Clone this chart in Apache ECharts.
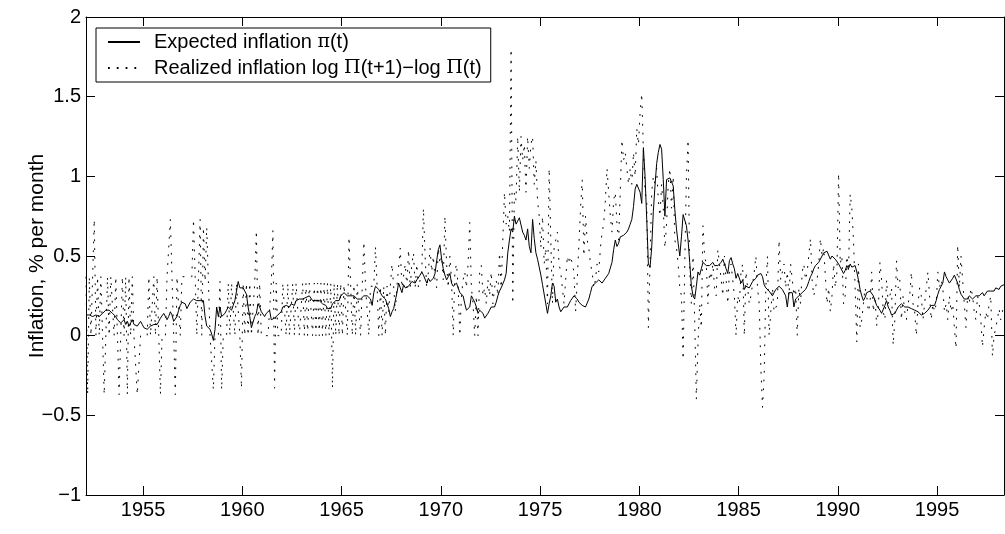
<!DOCTYPE html>
<html>
<head>
<meta charset="utf-8">
<script src="https://cdn.jsdelivr.net/npm/echarts@6/dist/echarts.min.js"></script>
<style>
html,body{margin:0;padding:0;background:#fff;}
#chart{width:1005px;height:534px;}
</style>
</head>
<body>
<div id="chart"></div>
<script>
// Monthly data, first observation Feb 1952, last observation May 1998
const firstYear = 1952;
const firstMonthIndex = 1; // 0 = January, so 1 = February

// Expected inflation pi(t), % per month
const expected1950s = [
  0.13,0.14,0.13,0.12,0.12,0.12,0.13,0.12,0.12,0.13,0.14,
  0.15,0.16,0.17,0.16,0.15,0.14,0.13,0.12,0.10,0.09,0.08,0.09,
  0.10,0.07,0.09,0.06,0.08,0.10,0.07,0.08,0.06,0.07,0.09,0.07,
  0.05,0.04,0.04,0.05,0.06,0.05,0.07,0.08,0.07,0.09,0.11,0.12,
  0.14,0.12,0.10,0.12,0.15,0.13,0.09,0.08,0.12,0.16,0.19,0.21,
  0.22,0.20,0.17,0.18,0.21,0.20,0.23,0.24,0.22,0.21,0.22,0.21,
  0.22,0.12,0.06,0.05,0.04,0.01,-0.03,0.04,0.18,0.12,0.18,0.12,
  0.13,0.14,0.16,0.18,0.17,0.16,0.19,0.22,0.28,0.34,0.30,0.31
];
const expected1960s = [
  0.30,0.28,0.26,0.18,0.12,0.05,0.04,0.12,0.14,0.20,0.18,0.15,
  0.16,0.12,0.14,0.15,0.16,0.10,0.09,0.11,0.12,0.13,0.14,0.15,
  0.18,0.17,0.19,0.20,0.18,0.20,0.21,0.19,0.22,0.21,0.23,0.22,
  0.23,0.22,0.24,0.23,0.25,0.24,0.22,0.23,0.22,0.21,0.22,0.22,
  0.20,0.21,0.19,0.17,0.18,0.17,0.20,0.21,0.22,0.23,0.22,0.25,
  0.26,0.27,0.26,0.25,0.26,0.25,0.24,0.25,0.24,0.23,0.24,0.23,
  0.24,0.25,0.26,0.25,0.24,0.23,0.19,0.27,0.31,0.30,0.29,0.27,
  0.25,0.24,0.23,0.20,0.17,0.12,0.15,0.17,0.22,0.27,0.33,0.30,
  0.27,0.32,0.30,0.29,0.31,0.32,0.34,0.33,0.33,0.35,0.36,0.38,
  0.40,0.38,0.37,0.33,0.36,0.34,0.33,0.36,0.39,0.47,0.54,0.57
];
const expected1970s = [
  0.48,0.42,0.38,0.35,0.37,0.39,0.33,0.31,0.32,0.33,0.30,0.27,
  0.26,0.25,0.20,0.16,0.17,0.18,0.25,0.23,0.21,0.18,0.14,0.16,
  0.16,0.14,0.11,0.12,0.14,0.16,0.18,0.17,0.18,0.21,0.25,0.28,
  0.30,0.31,0.35,0.39,0.52,0.60,0.67,0.65,0.75,0.70,0.69,0.74,
  0.74,0.65,0.63,0.60,0.67,0.56,0.52,0.73,0.61,0.52,0.48,0.43,
  0.38,0.32,0.31,0.20,0.14,0.20,0.25,0.33,0.31,0.21,0.23,0.18,
  0.15,0.16,0.18,0.17,0.18,0.20,0.22,0.23,0.25,0.24,0.23,0.21,
  0.20,0.19,0.18,0.18,0.19,0.23,0.27,0.31,0.32,0.33,0.34,0.35,
  0.35,0.33,0.34,0.36,0.37,0.39,0.40,0.46,0.54,0.60,0.56,0.58,
  0.62,0.62,0.63,0.64,0.65,0.67,0.70,0.73,0.81,0.92,0.95,0.96
];
const expected1980s = [
  0.90,0.83,1.18,1.00,0.73,0.45,0.43,0.55,0.78,0.94,1.08,1.15,
  1.20,1.17,0.98,0.75,0.98,0.99,0.99,0.98,0.94,0.79,0.67,0.58,
  0.50,0.62,0.76,0.77,0.69,0.60,0.46,0.31,0.25,0.23,0.31,0.40,
  0.38,0.42,0.46,0.45,0.44,0.43,0.44,0.45,0.46,0.44,0.43,0.44,
  0.44,0.46,0.48,0.49,0.42,0.39,0.47,0.49,0.45,0.42,0.36,0.39,
  0.39,0.33,0.35,0.29,0.31,0.30,0.30,0.32,0.34,0.35,0.36,0.38,
  0.38,0.39,0.37,0.32,0.30,0.29,0.28,0.28,0.25,0.27,0.29,0.30,
  0.31,0.30,0.29,0.30,0.25,0.18,0.27,0.28,0.27,0.18,0.23,0.24,
  0.25,0.26,0.27,0.28,0.29,0.31,0.34,0.37,0.39,0.42,0.44,0.45,
  0.46,0.48,0.50,0.52,0.52,0.53,0.53,0.48,0.50,0.49,0.48,0.47
];
const expected1990s = [
  0.45,0.43,0.42,0.39,0.41,0.44,0.42,0.45,0.43,0.42,0.44,0.40,
  0.35,0.29,0.25,0.22,0.24,0.27,0.28,0.28,0.27,0.25,0.22,0.19,
  0.18,0.16,0.14,0.15,0.19,0.22,0.18,0.16,0.13,0.14,0.14,0.16,
  0.18,0.19,0.20,0.19,0.18,0.17,0.18,0.18,0.17,0.17,0.16,0.15,
  0.15,0.14,0.13,0.12,0.14,0.15,0.16,0.17,0.19,0.20,0.19,0.22,
  0.26,0.29,0.31,0.33,0.40,0.37,0.35,0.33,0.34,0.36,0.38,0.37,
  0.33,0.29,0.26,0.25,0.23,0.24,0.23,0.25,0.24,0.23,0.24,0.25,
  0.24,0.25,0.26,0.27,0.25,0.26,0.28,0.27,0.28,0.29,0.28,0.30,
  0.31,0.29,0.31,0.30,0.32
];

// Realized inflation log Pi(t+1) - log Pi(t), % per month
const realized1950s = [
  0.37,-0.37,0.37,0.00,0.37,0.73,0.00,0.37,0.00,0.37,0.00,
  -0.37,0.00,0.37,0.00,0.37,0.37,0.00,0.37,0.37,-0.37,0.00,0.37,
  0.00,0.37,-0.37,0.37,0.00,0.37,0.00,0.00,-0.37,-0.37,0.00,0.00,
  0.00,0.00,0.00,0.37,0.00,0.00,0.37,0.00,0.37,0.00,-0.37,0.00,
  0.00,0.00,0.37,0.37,0.73,0.37,0.37,-0.37,0.37,0.37,0.00,0.37,
  0.37,0.37,0.37,0.37,0.37,0.37,0.73,0.37,0.00,0.37,0.73,0.00,
  0.68,0.34,0.68,0.34,0.00,0.00,-0.34,0.00,0.00,0.00,0.34,-0.34,
  0.00,0.00,0.00,0.33,0.00,0.33,0.33,0.00,0.33,0.33,0.00,-0.33
];
const realized1960s = [
  0.33,0.00,0.33,0.00,0.33,0.00,0.00,0.33,0.66,0.00,0.33,0.00,
  0.00,0.00,0.00,0.00,0.00,0.33,0.66,-0.33,0.33,0.00,0.00,0.00,
  0.33,0.33,0.00,0.33,0.00,0.00,0.33,0.00,0.33,0.33,0.00,0.00,
  0.33,0.00,0.33,0.00,0.33,0.33,0.00,0.33,0.00,0.33,0.00,0.33,
  0.00,0.33,0.00,0.33,0.00,0.33,-0.33,0.33,0.00,0.33,0.00,0.33,
  0.00,0.32,0.32,0.00,0.62,0.32,0.00,0.32,0.00,0.32,0.32,0.00,
  0.31,0.59,0.31,0.31,0.00,0.31,0.31,0.31,0.56,0.31,0.00,0.31,
  0.00,0.31,0.00,0.31,0.15,0.31,0.45,0.31,0.15,0.31,0.30,0.55,
  0.30,0.30,0.45,0.30,0.54,0.30,0.45,0.52,0.30,0.45,0.30,0.30,
  0.40,0.80,0.50,0.30,0.40,0.55,0.40,0.50,0.35,0.30,0.55,0.45
];
const realized1970s = [
  0.50,0.35,0.75,0.45,0.30,0.50,0.35,0.00,0.40,0.45,0.30,0.00,
  0.25,0.35,0.40,0.30,0.45,0.71,0.30,0.20,0.00,0.25,0.00,0.40,
  0.44,0.25,0.30,0.20,0.35,0.25,0.40,0.20,0.30,0.35,0.25,0.52,
  0.30,0.60,0.90,0.70,0.75,0.65,1.80,0.20,0.90,0.85,1.25,0.90,
  1.25,1.10,1.20,0.90,1.25,1.05,1.20,1.25,0.95,1.10,0.85,0.75,
  0.55,0.75,0.45,0.55,0.20,1.05,0.60,0.20,0.55,0.60,0.65,0.45,
  0.40,0.30,0.20,0.35,0.50,0.45,0.50,0.45,0.40,0.15,0.35,0.35,
  0.80,0.98,0.50,0.75,0.60,0.55,0.45,0.40,0.30,0.35,0.45,0.40,
  0.55,0.65,0.70,0.85,1.05,0.90,0.75,0.65,0.85,0.90,0.70,0.60,
  0.90,1.23,1.10,1.15,1.05,0.95,1.05,0.95,1.15,1.00,1.30,1.20
];
const realized1980s = [
  1.40,1.52,1.15,0.90,0.85,0.05,0.45,0.90,1.00,0.95,1.05,0.85,
  0.75,0.95,0.80,0.55,0.70,0.95,1.05,0.80,1.00,0.60,0.55,0.45,
  0.30,0.25,-0.15,0.45,1.00,1.23,0.40,0.20,0.50,0.10,-0.40,-0.05,
  0.20,0.05,0.69,0.50,0.45,0.20,0.40,0.35,0.45,0.30,0.25,0.54,
  0.45,0.45,0.25,0.50,0.35,0.20,0.40,0.45,0.35,0.25,0.00,0.25,
  0.20,0.40,0.45,0.00,0.40,0.30,0.20,0.25,0.25,0.40,0.50,0.30,
  0.20,-0.20,-0.45,-0.25,0.30,0.50,0.00,0.15,0.30,0.15,0.15,0.20,
  0.60,0.35,0.40,0.45,0.30,0.40,0.25,0.45,0.35,0.25,0.30,0.00,
  0.30,0.20,0.40,0.45,0.35,0.40,0.40,0.61,0.35,0.25,0.25,0.35,
  0.45,0.61,0.50,0.55,0.55,0.20,0.30,0.15,0.25,0.45,0.30,0.40
];
const realized1990s = [
  1.02,0.45,0.50,0.20,0.25,0.50,0.40,0.89,0.80,0.60,0.30,-0.04,
  0.45,0.05,0.10,0.20,0.30,0.25,0.15,0.20,0.40,0.15,0.25,0.06,
  0.15,0.46,0.35,0.15,0.10,0.35,0.20,0.25,0.30,-0.06,0.10,0.47,
  0.30,0.35,0.10,0.25,0.15,0.10,0.20,0.25,0.40,0.20,0.15,0.00,
  0.20,0.30,0.25,0.10,0.20,0.30,0.40,0.25,0.10,0.20,0.15,0.20,
  0.40,0.30,0.35,0.30,0.15,0.20,0.10,0.25,0.15,0.20,0.05,-0.08,
  0.57,0.30,0.50,0.35,0.20,0.05,0.25,0.20,0.30,0.25,0.15,0.10,
  0.25,0.20,0.10,-0.07,0.05,0.15,0.10,0.20,0.25,-0.13,0.00,0.05,
  0.10,0.17,0.10,0.15,0.20
];

const yearTicks = [1955, 1960, 1965, 1970, 1975, 1980, 1985, 1990, 1995];
const yTicks = [-1, -0.5, 0, 0.5, 1, 1.5, 2];
const seriesNames = ['Expected inflation', 'Realized inflation'];

const expected = [].concat(expected1950s, expected1960s, expected1970s, expected1980s, expected1990s);
const realized = [].concat(realized1950s, realized1960s, realized1970s, realized1980s, realized1990s);

// place each monthly value at the middle of its month
function monthPosition(i) {
  return firstYear + (firstMonthIndex + i + 0.5) / 12;
}
const expectedData = expected.map((v, i) => [monthPosition(i), v]);
const realizedData = realized.map((v, i) => [monthPosition(i), v]);

const xMin = monthPosition(0);
const xMax = monthPosition(realized.length - 1);

const font = 'Liberation Sans, Arial, Helvetica, sans-serif';
const black = '#000';
const tickLen = 9;

const chart = echarts.init(document.getElementById('chart'), null, {renderer: 'canvas'});
chart.setOption({
  animation: false,
  backgroundColor: '#fff',
  grid: {left: 86, right: 1, top: 17, bottom: 39, containLabel: false},
  legend: {
    data: seriesNames,
    orient: 'vertical',
    left: 96, top: 28,
    padding: [4, 9, 4, 11],
    itemGap: 6,
    itemWidth: 32, itemHeight: 20,
    borderColor: black, borderWidth: 1,
    backgroundColor: '#fff',
    selectedMode: false,
    itemStyle: {opacity: 0},
    textStyle: {
      color: black, fontFamily: font, fontSize: 20, padding: [0, 0, 0, 9],
      rich: {
        g: {fontFamily: 'DejaVu Serif, Liberation Serif, serif', fontSize: 19, color: black}
      }
    },
    formatter: function (name) {
      if (name === seriesNames[0]) return 'Expected inflation {g|π}(t)';
      return 'Realized inflation log {g|Π}(t+1)−log {g|Π}(t)';
    }
  },
  xAxis: [{
    type: 'value', min: xMin, max: xMax,
    position: 'bottom',
    axisLine: {show: true, onZero: false, lineStyle: {color: black, width: 1}},
    axisTick: {show: true, inside: true, length: tickLen, customValues: yearTicks, lineStyle: {color: black}},
    axisLabel: {show: true, customValues: yearTicks, color: black, fontFamily: font, fontSize: 20, margin: 5,
      formatter: v => String(Math.round(v))},
    splitLine: {show: false}
  }, {
    type: 'value', min: xMin, max: xMax,
    position: 'top',
    axisLine: {show: true, onZero: false, lineStyle: {color: black, width: 1}},
    axisTick: {show: true, inside: true, length: tickLen, customValues: yearTicks, lineStyle: {color: black}},
    axisLabel: {show: false},
    splitLine: {show: false}
  }],
  yAxis: [{
    type: 'value', min: -1, max: 2, interval: 0.5,
    position: 'left',
    name: 'Inflation, % per month',
    nameLocation: 'middle', nameGap: 38,
    nameMoveOverlap: false,
    nameTextStyle: {color: black, fontFamily: font, fontSize: 21},
    axisLine: {show: true, onZero: false, lineStyle: {color: black, width: 1}},
    axisTick: {show: true, inside: true, length: tickLen, lineStyle: {color: black}},
    axisLabel: {color: black, fontFamily: font, fontSize: 20, margin: 5,
      formatter: v => (v < 0 ? '−' + String(-v) : String(v))},
    splitLine: {show: false}
  }, {
    type: 'value', min: -1, max: 2, interval: 0.5,
    position: 'right',
    axisLine: {show: true, onZero: false, lineStyle: {color: black, width: 1}},
    axisTick: {show: true, inside: true, length: tickLen, lineStyle: {color: black}},
    axisLabel: {show: false},
    splitLine: {show: false}
  }],
  series: [{
    name: seriesNames[1],
    type: 'line',
    data: realizedData,
    xAxisIndex: 0, yAxisIndex: 0,
    symbol: 'none',
    lineStyle: {color: black, width: 1, type: [1.8, 7]},
    itemStyle: {color: black},
    z: 2
  }, {
    name: seriesNames[0],
    type: 'line',
    data: expectedData,
    xAxisIndex: 0, yAxisIndex: 0,
    symbol: 'none',
    lineStyle: {color: black, width: 1},
    itemStyle: {color: black},
    z: 3
  }]
});
</script>
</body>
</html>
